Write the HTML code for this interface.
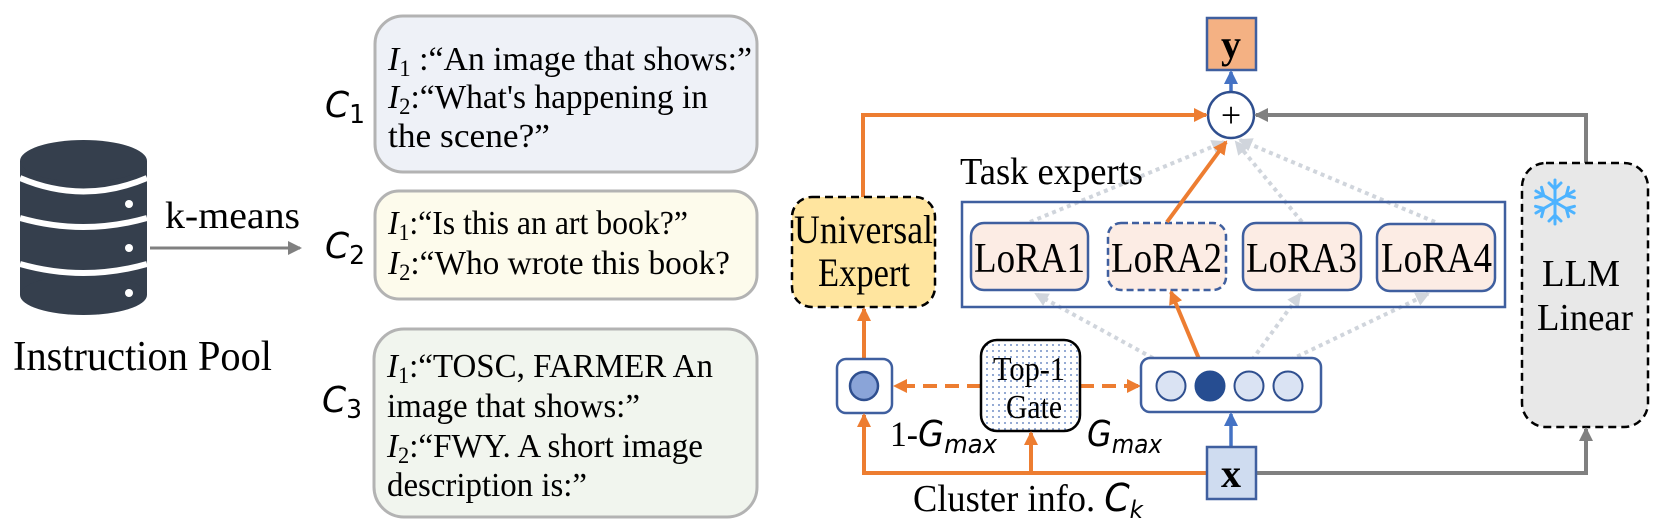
<!DOCTYPE html>
<html><head><meta charset="utf-8"><style>
html,body{margin:0;padding:0;background:#fff;}
svg{display:block;}
.t{font-family:"Liberation Serif",serif;fill:#000;}
.m{font-family:"DejaVu Sans",sans-serif;font-style:italic;fill:#000;}
</style></head><body>
<svg width="1660" height="528" viewBox="0 0 1660 528" xmlns="http://www.w3.org/2000/svg">
<defs>
<marker id="ag" markerWidth="16" markerHeight="14" refX="12" refY="7" orient="auto" markerUnits="userSpaceOnUse"><path d="M0,0 L14,7 L0,14 z" fill="#808080"/></marker>
<marker id="aor" markerWidth="16" markerHeight="14" refX="12" refY="7" orient="auto" markerUnits="userSpaceOnUse"><path d="M0,0 L14,7 L0,14 z" fill="#ed7d31"/></marker>
<marker id="ab" markerWidth="16" markerHeight="14" refX="12" refY="7" orient="auto" markerUnits="userSpaceOnUse"><path d="M0,0 L14,7 L0,14 z" fill="#4472c4"/></marker>
<marker id="al" markerWidth="16" markerHeight="14" refX="12" refY="7" orient="auto" markerUnits="userSpaceOnUse"><path d="M0,0 L14,7 L0,14 z" fill="#d0d5dc"/></marker>
<pattern id="dots" width="6" height="6" patternUnits="userSpaceOnUse"><rect width="6" height="6" fill="#fff"/><circle cx="3" cy="3" r="0.9" fill="#4a6fb5"/></pattern>
</defs>

<g fill="#353f4d">
<rect x="20" y="161" width="127" height="134"/>
<ellipse cx="83.5" cy="161" rx="63.5" ry="21"/>
<ellipse cx="83.5" cy="295" rx="63.5" ry="20"/>
</g>
<path d="M20,178 Q83.5,205 147,178" stroke="#fff" stroke-width="6" fill="none"/>
<path d="M20,218 Q83.5,236 147,218" stroke="#fff" stroke-width="6" fill="none"/>
<path d="M20,264 Q83.5,282 147,264" stroke="#fff" stroke-width="6" fill="none"/>
<circle cx="129" cy="204" r="4" fill="#fff"/>
<circle cx="129" cy="248" r="4" fill="#fff"/>
<circle cx="129" cy="293" r="4" fill="#fff"/>
<text class="t" x="165" y="228" font-size="38" textLength="135" lengthAdjust="spacingAndGlyphs">k-means</text>
<line x1="150" y1="248" x2="300" y2="248" stroke="#808080" stroke-width="3" marker-end="url(#ag)"/>
<text class="t" x="13" y="370" font-size="42" textLength="259" lengthAdjust="spacingAndGlyphs">Instruction Pool</text>

<text class="m" x="325" y="117" font-size="36" textLength="40" lengthAdjust="spacingAndGlyphs">C<tspan font-size="26" dy="6" font-style="normal">1</tspan></text>
<text class="m" x="325" y="258" font-size="36" textLength="40" lengthAdjust="spacingAndGlyphs">C<tspan font-size="26" dy="6" font-style="normal">2</tspan></text>
<text class="m" x="322" y="412" font-size="36" textLength="40" lengthAdjust="spacingAndGlyphs">C<tspan font-size="26" dy="6" font-style="normal">3</tspan></text>

<rect x="375" y="16" width="382" height="156" rx="28" fill="#eef1f7" stroke="#b3b3b3" stroke-width="3"/>
<rect x="375" y="191" width="382" height="108" rx="24" fill="#fdfbec" stroke="#b3b3b3" stroke-width="3"/>
<rect x="374" y="329" width="383" height="188" rx="30" fill="#f1f5ee" stroke="#b3b3b3" stroke-width="3"/>

<g class="t" font-size="34">
<text x="388" y="70" textLength="364" lengthAdjust="spacingAndGlyphs"><tspan font-style="italic">I</tspan><tspan font-size="23" dy="6">1</tspan><tspan dy="-6"> :“An image that shows:”</tspan></text>
<text x="388" y="108" textLength="320" lengthAdjust="spacingAndGlyphs"><tspan font-style="italic">I</tspan><tspan font-size="23" dy="6">2</tspan><tspan dy="-6">:“What's happening in</tspan></text>
<text x="388" y="147" textLength="162" lengthAdjust="spacingAndGlyphs">the scene?”</text>
<text x="388" y="234" textLength="300" lengthAdjust="spacingAndGlyphs"><tspan font-style="italic">I</tspan><tspan font-size="23" dy="6">1</tspan><tspan dy="-6">:“Is this an art book?”</tspan></text>
<text x="388" y="274" textLength="342" lengthAdjust="spacingAndGlyphs"><tspan font-style="italic">I</tspan><tspan font-size="23" dy="6">2</tspan><tspan dy="-6">:“Who wrote this book?</tspan></text>
<text x="387" y="377" textLength="326" lengthAdjust="spacingAndGlyphs"><tspan font-style="italic">I</tspan><tspan font-size="23" dy="6">1</tspan><tspan dy="-6">:“TOSC, FARMER An</tspan></text>
<text x="387" y="417" textLength="253" lengthAdjust="spacingAndGlyphs">image that shows:”</text>
<text x="387" y="457" textLength="316" lengthAdjust="spacingAndGlyphs"><tspan font-style="italic">I</tspan><tspan font-size="23" dy="6">2</tspan><tspan dy="-6">:“FWY. A short image</tspan></text>
<text x="387" y="496" textLength="200" lengthAdjust="spacingAndGlyphs">description is:”</text>
</g>

<g stroke="#d0d5dc" stroke-width="4" stroke-dasharray="4,4" fill="none">
<line x1="1030" y1="222" x2="1224" y2="142" marker-end="url(#al)"/>
<line x1="1302" y1="222" x2="1236" y2="142" marker-end="url(#al)"/>
<line x1="1435" y1="222" x2="1240" y2="140" marker-end="url(#al)"/>
<line x1="1160" y1="362" x2="1036" y2="294" marker-end="url(#al)"/>
<line x1="1252" y1="360" x2="1300" y2="294" marker-end="url(#al)"/>
<line x1="1290" y1="360" x2="1428" y2="294" marker-end="url(#al)"/>
</g>

<rect x="1207" y="18" width="49" height="52" fill="#f4b183" stroke="#3f5f9f" stroke-width="2.5"/>
<text class="t" x="1231" y="58" font-size="40" font-weight="bold" text-anchor="middle">y</text>
<line x1="1231" y1="92" x2="1231" y2="72" stroke="#4472c4" stroke-width="3.5" marker-end="url(#ab)"/>
<circle cx="1231" cy="115" r="23" fill="#fff" stroke="#2f4f8f" stroke-width="2.5"/>
<text class="t" x="1231" y="127" font-size="36" text-anchor="middle">+</text>

<polyline points="863,197 863,115 1206,115" stroke="#ed7d31" stroke-width="4" fill="none" marker-end="url(#aor)"/>
<rect x="792" y="197" width="143" height="110" rx="20" fill="#ffe59f" stroke="#000" stroke-width="2.5" stroke-dasharray="8,5"/>
<text class="t" x="794" y="243" font-size="40" textLength="139" lengthAdjust="spacingAndGlyphs">Universal</text>
<text class="t" x="818" y="286" font-size="40" textLength="92" lengthAdjust="spacingAndGlyphs">Expert</text>

<polyline points="1586,163 1586,115 1256,115" stroke="#808080" stroke-width="4" fill="none" marker-end="url(#ag)"/>
<rect x="1522" y="163" width="126" height="264" rx="24" fill="#e8e8e8" stroke="#000" stroke-width="2.5" stroke-dasharray="8,5"/>
<g stroke="#4db3ff" stroke-width="3" stroke-linecap="round" fill="none" transform="translate(1555,202)">
<g id="arm"><line x1="0" y1="0" x2="0" y2="-22"/><line x1="0" y1="-13" x2="-6" y2="-19"/><line x1="0" y1="-13" x2="6" y2="-19"/></g>
<use href="#arm" transform="rotate(60)"/><use href="#arm" transform="rotate(120)"/><use href="#arm" transform="rotate(180)"/><use href="#arm" transform="rotate(240)"/><use href="#arm" transform="rotate(300)"/>
</g>
<text class="t" x="1542" y="286" font-size="38" textLength="78" lengthAdjust="spacingAndGlyphs">LLM</text>
<text class="t" x="1537" y="330" font-size="38" textLength="96" lengthAdjust="spacingAndGlyphs">Linear</text>

<text class="t" x="960" y="184" font-size="38" textLength="183" lengthAdjust="spacingAndGlyphs">Task experts</text>
<rect x="962" y="202" width="543" height="105" fill="none" stroke="#3f5f9f" stroke-width="2.5"/>
<g stroke="#3f5f9f" stroke-width="2.5" fill="#fcece4">
<rect x="971" y="223" width="117" height="67" rx="13"/>
<rect x="1108" y="223" width="118" height="67" rx="13" stroke-dasharray="7,4"/>
<rect x="1243" y="223" width="118" height="67" rx="13"/>
<rect x="1377" y="224" width="118" height="67" rx="13"/>
</g>
<g class="t" font-size="42">
<text x="974" y="272" textLength="111" lengthAdjust="spacingAndGlyphs">LoRA1</text>
<text x="1111" y="272" textLength="111" lengthAdjust="spacingAndGlyphs">LoRA2</text>
<text x="1246" y="272" textLength="111" lengthAdjust="spacingAndGlyphs">LoRA3</text>
<text x="1381" y="272" textLength="111" lengthAdjust="spacingAndGlyphs">LoRA4</text>
</g>
<line x1="1167" y1="222" x2="1226" y2="142" stroke="#ed7d31" stroke-width="4" marker-end="url(#aor)"/>
<line x1="1207" y1="378" x2="1171" y2="292" stroke="#ed7d31" stroke-width="4" marker-end="url(#aor)"/>

<line x1="864" y1="359" x2="864" y2="309" stroke="#ed7d31" stroke-width="4" marker-end="url(#aor)"/>
<rect x="837" y="359" width="55" height="54" rx="9" fill="#fff" stroke="#3f5f9f" stroke-width="2.5"/>
<circle cx="864" cy="386" r="14" fill="#8aa4d8" stroke="#2f4f8f" stroke-width="2.5"/>

<line x1="981" y1="386" x2="895" y2="386" stroke="#ed7d31" stroke-width="4" stroke-dasharray="14,8" marker-end="url(#aor)"/>
<line x1="1080" y1="386" x2="1139" y2="386" stroke="#ed7d31" stroke-width="4" stroke-dasharray="14,8" marker-end="url(#aor)"/>
<rect x="981" y="340" width="99" height="91" rx="16" fill="url(#dots)" stroke="#000" stroke-width="2.5"/>
<text class="t" x="993" y="380" font-size="34" textLength="72" lengthAdjust="spacingAndGlyphs">Top-1</text>
<text class="t" x="1006" y="418" font-size="34" textLength="56" lengthAdjust="spacingAndGlyphs">Gate</text>

<rect x="1141" y="358" width="180" height="54" rx="9" fill="#fff" stroke="#3f5f9f" stroke-width="2.5"/>
<circle cx="1171" cy="386" r="14.5" fill="#dae3f3" stroke="#2f4f8f" stroke-width="2"/>
<circle cx="1210" cy="386" r="14.5" fill="#264d91" stroke="#264d91" stroke-width="2"/>
<circle cx="1249" cy="386" r="14.5" fill="#dae3f3" stroke="#2f4f8f" stroke-width="2"/>
<circle cx="1288" cy="386" r="14.5" fill="#dae3f3" stroke="#2f4f8f" stroke-width="2"/>

<polyline points="1207,473 864,473 864,415" stroke="#ed7d31" stroke-width="4" fill="none" marker-end="url(#aor)"/>
<line x1="1031" y1="473" x2="1031" y2="433" stroke="#ed7d31" stroke-width="4" marker-end="url(#aor)"/>
<polyline points="1256,473 1586,473 1586,429" stroke="#808080" stroke-width="4" fill="none" marker-end="url(#ag)"/>
<line x1="1231" y1="447" x2="1231" y2="414" stroke="#4472c4" stroke-width="3.5" marker-end="url(#ab)"/>
<rect x="1207" y="447" width="49" height="52" fill="#cfdcf0" stroke="#3f5f9f" stroke-width="2.5"/>
<text class="t" x="1231" y="487" font-size="40" font-weight="bold" text-anchor="middle">x</text>

<text class="t" x="890" y="446" font-size="36" textLength="107" lengthAdjust="spacingAndGlyphs">1-<tspan class="m">G</tspan><tspan class="m" font-size="26" dy="7">max</tspan></text>
<text class="m" x="1087" y="446" font-size="36" textLength="75" lengthAdjust="spacingAndGlyphs">G<tspan font-size="26" dy="7">max</tspan></text>
<text class="t" x="913" y="511" font-size="38" textLength="230" lengthAdjust="spacingAndGlyphs">Cluster info. <tspan class="m">C</tspan><tspan class="m" font-size="24" dy="7">k</tspan></text>
</svg>
</body></html>
